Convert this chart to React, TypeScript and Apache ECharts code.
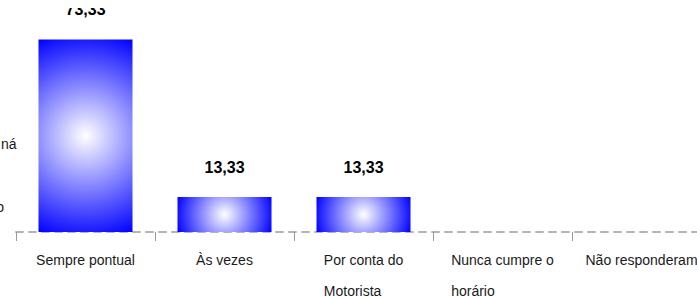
import React, { useEffect, useRef } from "react";
import * as echarts from "echarts";

const categories = [
  "Sempre pontual",
  "Às vezes",
  "Por conta do\nMotorista",
  "Nunca cumpre o\nhorário",
  "Não responderam",
];
const values = [73.33, 13.33, 13.33, 0, 0];
const yMax = 80;

const FONT = "Arial, 'Liberation Sans', sans-serif";
const BAR_WIDTH = 94;

function fmt(v: number): string {
  if (!v) return "";
  return v.toFixed(2).replace(".", ",");
}

export default function App() {
  const ref = useRef<HTMLDivElement>(null);

  useEffect(() => {
    if (!ref.current) return;
    const chart = echarts.init(ref.current, null, { renderer: "svg" });
    const option: any = {
      animation: false,
      backgroundColor: "#ffffff",
      grid: {
        left: 16,
        right: -14,
        top: 22,
        bottom: 66,
        containLabel: false,
        outerBoundsMode: "none",
      },
      xAxis: {
        type: "category",
        data: categories,
        axisLine: {
          show: true,
          lineStyle: { color: "#b4b4b4", width: 2, type: [7, 6] },
        },
        axisTick: {
          show: true,
          alignWithLabel: false,
          length: 9,
          lineStyle: { color: "#9a9a9a", width: 1 },
        },
        axisLabel: {
          interval: 0,
          margin: 12,
          color: "#1a1a1a",
          fontFamily: FONT,
          fontSize: 14,
          lineHeight: 31,
          hideOverlap: false,
          formatter: (v: string) =>
            v
              .split("\n")
              .map((l) => `{a|${l}}`)
              .join("\n"),
          rich: {
            a: {
              align: "left",
              fontFamily: FONT,
              fontSize: 14,
              lineHeight: 31,
              color: "#1a1a1a",
            },
          },
        },
      },
      yAxis: {
        type: "value",
        min: 0,
        max: yMax,
        show: false,
        splitLine: { show: false },
      },
      series: [
        {
          type: "bar",
          data: values,
          barWidth: BAR_WIDTH,
          itemStyle: { color: "#0000ff" },
          label: {
            show: true,
            position: "top",
            distance: 22,
            color: "#000000",
            fontFamily: FONT,
            fontWeight: "bold",
            fontSize: 16,
            formatter: (p: any) => fmt(p.value),
          },
        },
      ],
      graphic: [
        {
          type: "text",
          x: 16.5,
          y: 144,
          style: {
            text: "ná",
            align: "right",
            verticalAlign: "middle",
            font: `14px ${FONT}`,
            fill: "#1a1a1a",
          },
        },
        {
          type: "text",
          x: 4,
          y: 207,
          style: {
            text: "o",
            align: "right",
            verticalAlign: "middle",
            font: `14px ${FONT}`,
            fill: "#1a1a1a",
          },
        },
        {
          type: "rect",
          x: 0,
          y: 0,
          z: 100,
          shape: { x: 0, y: 0, width: 697, height: 8 },
          style: { fill: "#ffffff" },
        },
      ],
    };
    chart.setOption(option);

    const zeroY = chart.convertToPixel({ yAxisIndex: 0 }, 0) as number;
    const data = values.map((v, i) => {
      const cx = chart.convertToPixel({ xAxisIndex: 0 }, categories[i]) as number;
      const topY = chart.convertToPixel({ yAxisIndex: 0 }, v) as number;
      const h = zeroY - topY;
      const cy = (topY + zeroY) / 2;
      const r = Math.max(1, Math.sqrt((BAR_WIDTH / 2) ** 2 + (h / 2) ** 2));
      return {
        value: v,
        itemStyle: {
          color: {
            type: "radial",
            x: cx,
            y: cy,
            r,
            global: true,
            colorStops: [
              { offset: 0, color: "#ffffff" },
              { offset: 1, color: "#0000ff" },
            ],
          },
        },
      };
    });
    chart.setOption({ series: [{ data }] });

    return () => chart.dispose();
  }, []);

  return (
    <div
      ref={ref}
      style={{ position: "fixed", left: 0, top: 0, width: 697, height: 298 }}
    />
  );
}
